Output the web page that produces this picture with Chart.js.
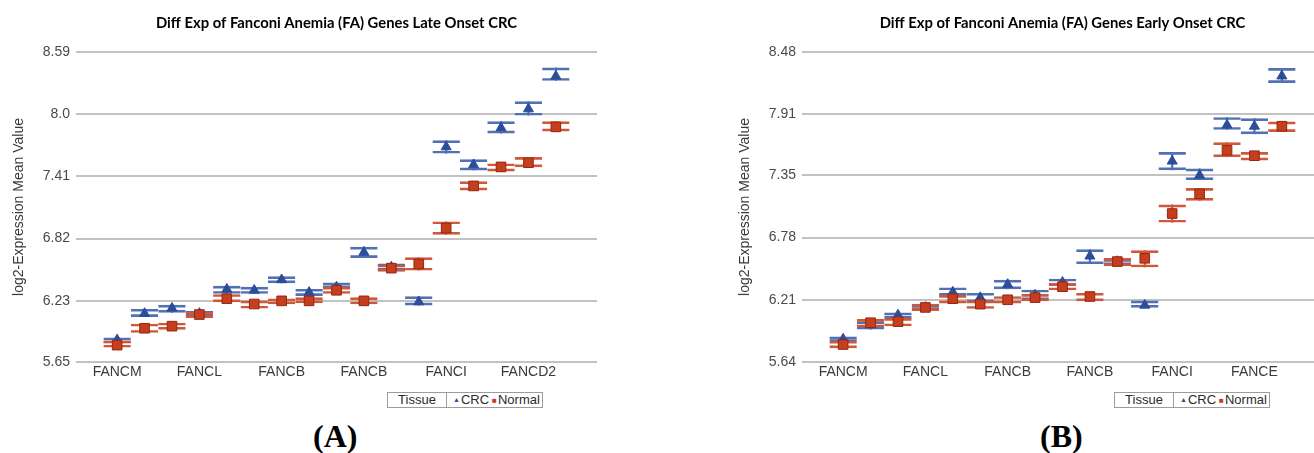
<!DOCTYPE html>
<html>
<head>
<meta charset="utf-8">
<script src="https://cdn.jsdelivr.net/npm/chart.js@4.4.1/dist/chart.umd.min.js"></script>
<style>
  html, body { margin:0; padding:0; background:#fff; width:1314px; height:453px; overflow:hidden; }
  .wrap { position:absolute; top:0; width:657px; height:392px; }
  #wa { left:0; }
  #wb { left:726px; }
  .legend { position:absolute; top:392px; height:14px; border:1px solid #9c9c9c; background:#fff;
            font:13px "Liberation Sans", Arial, sans-serif; line-height:14px; color:#2b2b2b; display:flex; white-space:nowrap; }
  .legend .c1 { width:58px; text-align:center; border-right:1px solid #9c9c9c; }
  .legend .c2 { padding:0 2px 0 6px; }
  .legend .tri { color:#2c4d9a; font-size:7px; vertical-align:2px; margin-right:1px; }
  .legend .sq { color:#c73d1d; font-size:8px; vertical-align:1px; margin:0 1px 0 3px; }
  .panel { position:absolute; top:420px; font:bold 32px "Liberation Serif", "Times New Roman", serif; line-height:32px; color:#000; }
</style>
</head>
<body>
<div class="wrap" id="wa"><canvas id="ca" width="657" height="392"></canvas></div>
<div class="wrap" id="wb"><canvas id="cb" width="657" height="392"></canvas></div>
<div class="legend" style="left:387px"><span class="c1">Tissue</span><span class="c2"><span class="tri">▲</span>CRC<span class="sq">■</span>Normal</span></div>
<div class="legend" style="left:1114px"><span class="c1">Tissue</span><span class="c2"><span class="tri">▲</span>CRC<span class="sq">■</span>Normal</span></div>
<div class="panel" style="left:313px">(<span>A</span>)</div>
<div class="panel" style="left:1040px">(<span>B</span>)</div>
<script>
// ---------- Data: Panel A (Late Onset CRC) ----------
const titleA = 'Diff Exp of Fanconi Anemia (FA) Genes Late Onset CRC';
const categoriesA = ['FANCM','','','FANCL','','','FANCB','','','FANCB','','','FANCI','','','FANCD2',''];
const yTickLabelsA = ['5.65','6.23','6.82','7.41','8.0','8.59'];
const crcA      = [5.86, 6.11, 6.16, 6.11, 6.34, 6.33, 6.43, 6.31, 6.36, 6.69, 6.55, 6.22, 7.69, 7.52, 7.87, 8.05, 8.36];
const crcHiA    = [5.88, 6.15, 6.19, 6.13, 6.37, 6.36, 6.46, 6.34, 6.40, 6.74, 6.58, 6.27, 7.75, 7.57, 7.93, 8.12, 8.44];
const crcLoA    = [5.83, 6.08, 6.12, 6.09, 6.30, 6.30, 6.40, 6.28, 6.35, 6.64, 6.52, 6.19, 7.63, 7.47, 7.82, 7.99, 8.32];
const normalA   = [5.81, 5.97, 5.99, 6.10, 6.25, 6.20, 6.23, 6.23, 6.33, 6.23, 6.54, 6.58, 6.92, 7.32, 7.50, 7.54, 7.88];
const normalHiA = [5.85, 6.01, 6.02, 6.12, 6.29, 6.23, 6.25, 6.26, 6.36, 6.26, 6.57, 6.64, 6.98, 7.36, 7.53, 7.59, 7.93];
const normalLoA = [5.79, 5.93, 5.96, 6.07, 6.22, 6.16, 6.20, 6.21, 6.30, 6.20, 6.51, 6.52, 6.86, 7.28, 7.46, 7.50, 7.84];

// ---------- Data: Panel B (Early Onset CRC) ----------
const titleB = 'Diff Exp of Fanconi Anemia (FA) Genes Early Onset CRC';
const categoriesB = ['FANCM','','','FANCL','','','FANCB','','','FANCB','','','FANCI','','','FANCE',''];
const yTickLabelsB = ['5.64','6.21','6.78','7.35','7.91','8.48'];
const crcB      = [5.85, 5.98, 6.07, 6.14, 6.28, 6.23, 6.35, 6.25, 6.37, 6.61, 6.56, 6.16, 7.48, 7.35, 7.81, 7.80, 8.26];
const crcHiB    = [5.87, 6.01, 6.09, 6.16, 6.32, 6.27, 6.39, 6.30, 6.40, 6.67, 6.58, 6.20, 7.56, 7.41, 7.88, 7.87, 8.33];
const crcLoB    = [5.83, 5.94, 6.04, 6.12, 6.25, 6.19, 6.31, 6.21, 6.34, 6.54, 6.53, 6.14, 7.40, 7.31, 7.77, 7.73, 8.20];
const normalB   = [5.80, 6.00, 6.01, 6.14, 6.22, 6.17, 6.21, 6.23, 6.33, 6.24, 6.56, 6.59, 7.00, 7.18, 7.58, 7.53, 7.80];
const normalHiB = [5.83, 6.03, 6.04, 6.17, 6.25, 6.20, 6.24, 6.26, 6.36, 6.27, 6.59, 6.66, 7.08, 7.23, 7.65, 7.56, 7.84];
const normalLoB = [5.77, 5.96, 5.97, 6.11, 6.18, 6.13, 6.18, 6.20, 6.30, 6.20, 6.52, 6.51, 6.92, 7.12, 7.52, 7.49, 7.75];

// ---------- Styles ----------
const CRC_FILL = '#2c4d9a', CRC_CAP = '#5271b2';
const NOR_FILL = '#c73d1d', NOR_EDGE = '#8f2a12', NOR_CAP = '#d0583a';
const SANS = '"Liberation Sans", Arial, sans-serif';

function pad(arr) { return [null, ...arr, null]; }
function ranges(lo, hi) { return pad(lo.map((v, i) => [v, hi[i]])); }

function build(canvasId, title, cats, tickLabels, crc, crcLo, crcHi, nor, norLo, norHi) {
  const tickVals = tickLabels.map(Number);
  const capDs = (lo, hi, color, order) => ({
    type: 'bar', data: ranges(lo, hi), grouped: false,
    barPercentage: 1, categoryPercentage: 1,
    backgroundColor: 'rgba(0,0,0,0)', borderColor: color,
    borderWidth: {top: 2, bottom: 2, left: 0, right: 0}, borderSkipped: false, order
  });
  const stemDs = (lo, hi, color, order) => ({
    type: 'bar', data: ranges(lo, hi), grouped: false,
    barThickness: 1.5, backgroundColor: color, borderWidth: 0, order
  });
  new Chart(document.getElementById(canvasId), {
    data: {
      labels: pad(cats).map(c => c === null ? '' : c),
      datasets: [
        capDs(crcLo, crcHi, CRC_CAP, 6),
        stemDs(crcLo, crcHi, CRC_CAP, 5),
        capDs(norLo, norHi, NOR_CAP, 4),
        stemDs(norLo, norHi, NOR_CAP, 3),
        { type: 'line', label: 'CRC', data: pad(crc), showLine: false,
          pointStyle: 'triangle', pointRadius: 5.8, pointHoverRadius: 5.8,
          pointBackgroundColor: CRC_FILL, pointBorderColor: CRC_FILL, pointBorderWidth: 1, order: 1 },
        { type: 'line', label: 'Normal', data: pad(nor), showLine: false,
          pointStyle: 'rect', pointRadius: 6.8, pointHoverRadius: 6.8,
          pointBackgroundColor: NOR_FILL, pointBorderColor: NOR_EDGE, pointBorderWidth: 1, order: 0 }
      ]
    },
    options: {
      responsive: false, animation: false, devicePixelRatio: 1,
      layout: { padding: { top: 4, right: 60, bottom: 2, left: 0 } },
      plugins: {
        legend: { display: false }, tooltip: { enabled: false },
        title: { display: true, text: title, fullSize: false, color: '#000',
                 font: { family: 'Lato, "Open Sans", sans-serif', size: 14.8, weight: 'bold' },
                 padding: { top: 10, bottom: 20.24 } }
      },
      scales: {
        x: {
          type: 'category', offset: true,
          grid: { display: false, drawTicks: false }, border: { display: false },
          ticks: { autoSkip: false, maxRotation: 0, minRotation: 0, padding: 2, color: '#3a3a3a',
                   font: { family: SANS, size: 14 } },
          afterFit: s => { s.height = 28; }
        },
        y: {
          min: tickVals[0], max: tickVals[tickVals.length - 1],
          afterBuildTicks: s => { s.ticks = tickVals.map(v => ({ value: v })); },
          ticks: { padding: 6, color: '#4a4a4a', font: { family: SANS, size: 14 },
                   callback: (v, i) => tickLabels[i] },
          grid: { color: '#c2c2c2', lineWidth: 2, drawTicks: false },
          border: { display: false },
          title: { display: true, text: 'log2-Expression Mean Value', color: '#3a3a3a',
                   font: { family: SANS, size: 14 }, padding: { top: 11, bottom: 0 } },
          afterFit: s => { s.width = 76; }
        }
      }
    }
  });
}

build('ca', titleA, categoriesA, yTickLabelsA, crcA, crcLoA, crcHiA, normalA, normalLoA, normalHiA);
build('cb', titleB, categoriesB, yTickLabelsB, crcB, crcLoB, crcHiB, normalB, normalLoB, normalHiB);
</script>
</body>
</html>
